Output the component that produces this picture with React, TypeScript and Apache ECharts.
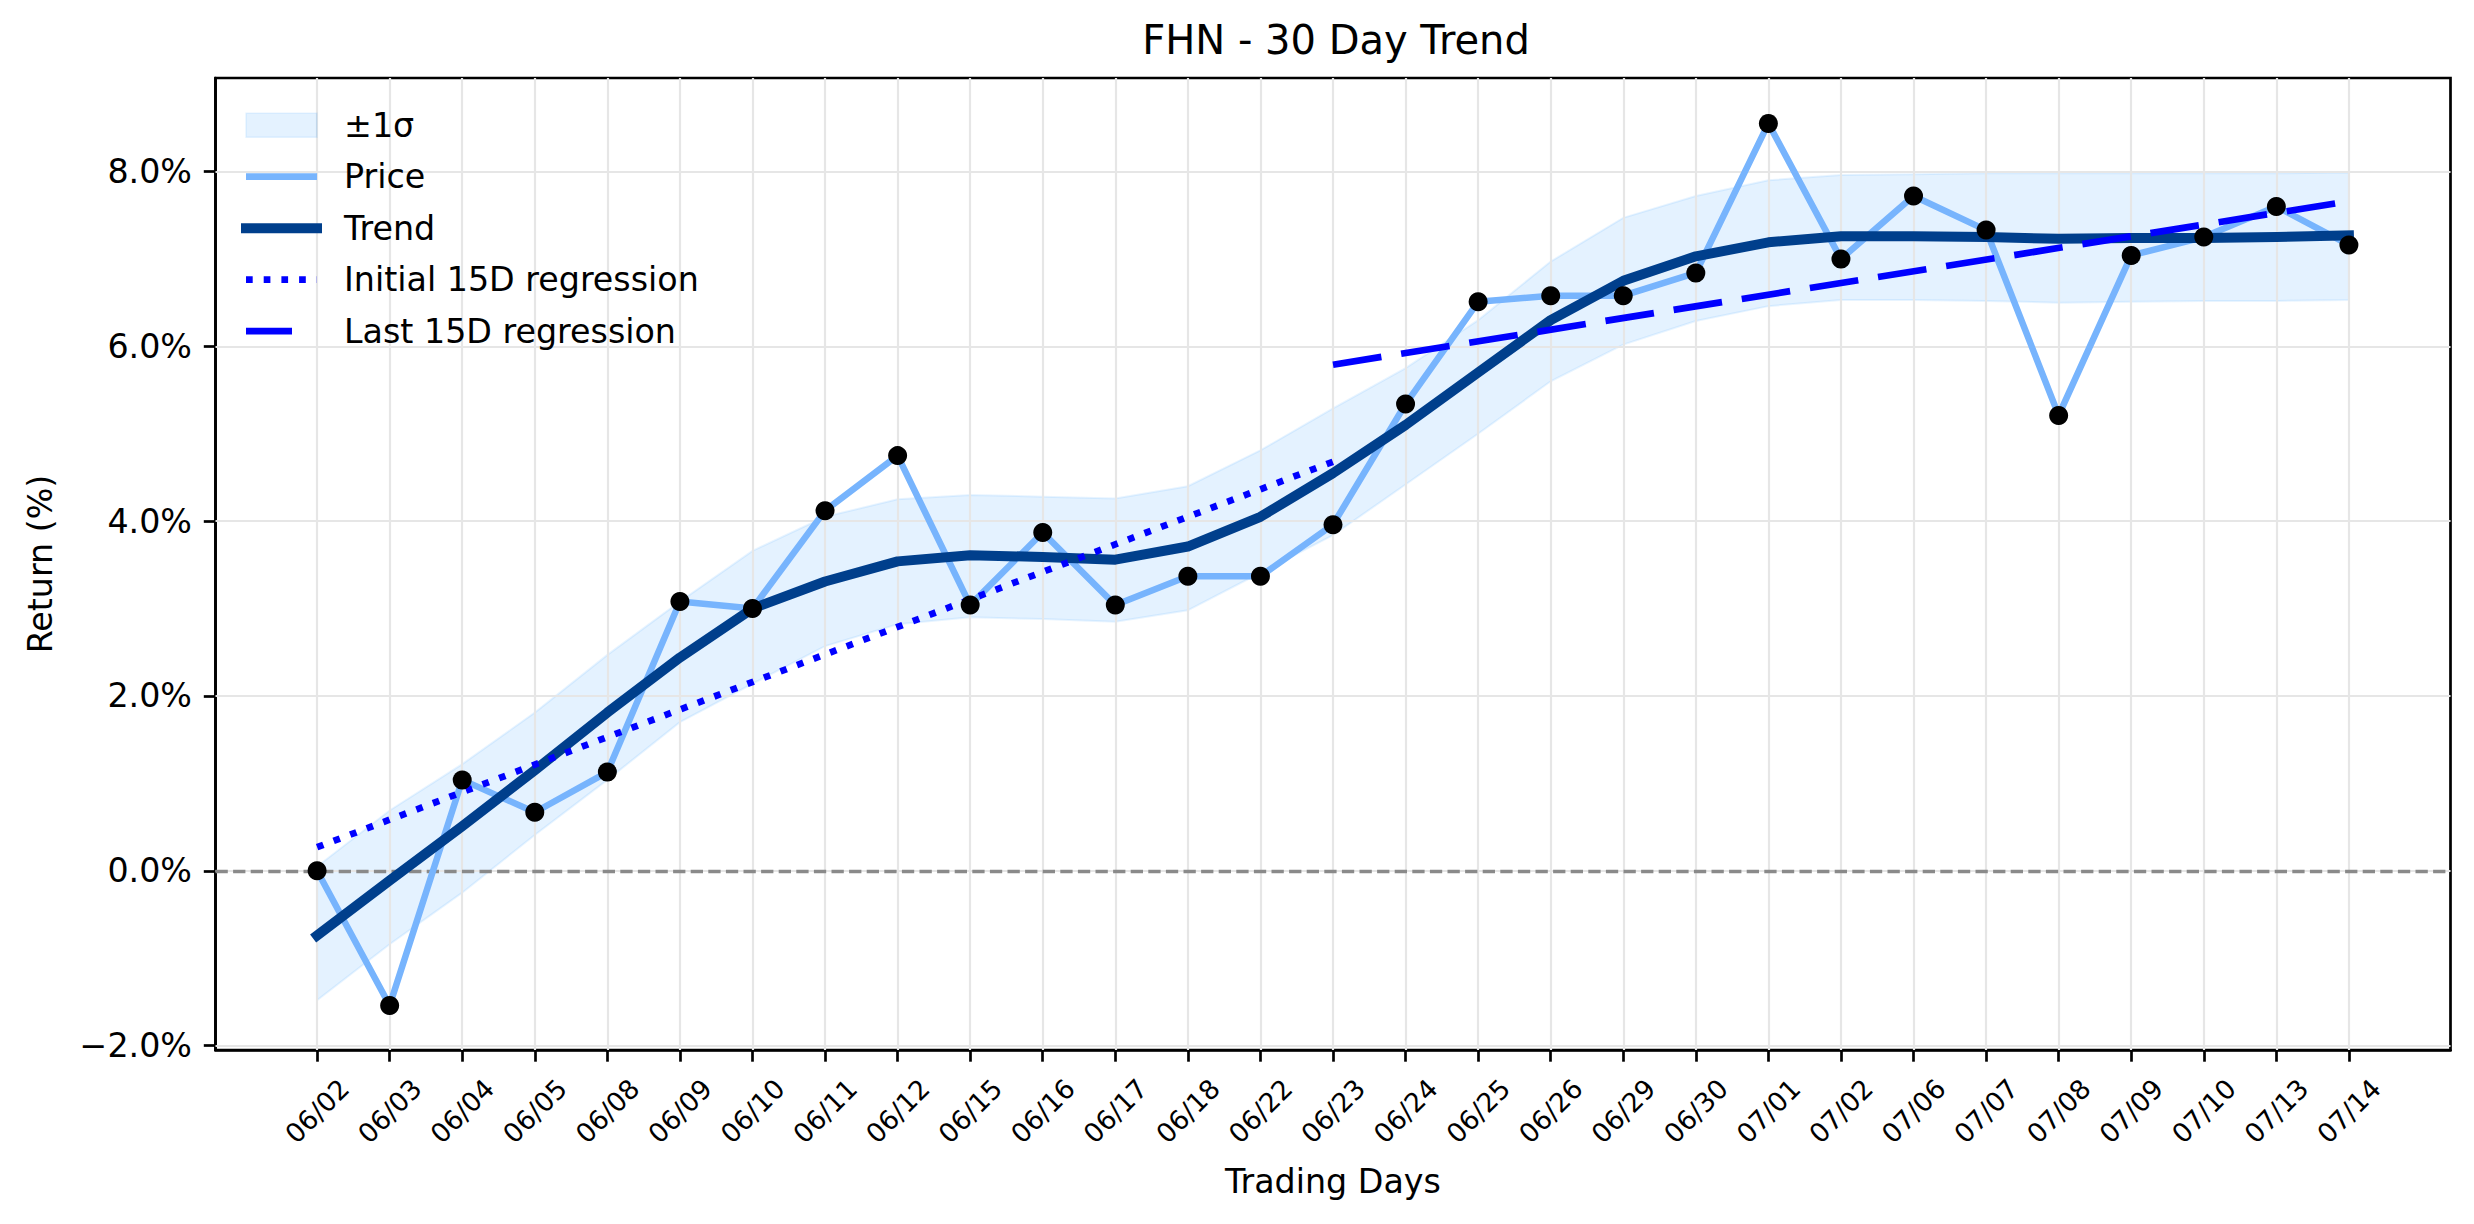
import React, { useEffect, useRef } from 'react';
import * as echarts from 'echarts';

const dates = [
  '06/02', '06/03', '06/04', '06/05', '06/08', '06/09', '06/10', '06/11', '06/12', '06/15',
  '06/16', '06/17', '06/18', '06/22', '06/23', '06/24', '06/25', '06/26', '06/29', '06/30',
  '07/01', '07/02', '07/06', '07/07', '07/08', '07/09', '07/10', '07/13', '07/14',
];
const price = [
  0.0, -1.54, 1.04, 0.67, 1.13, 3.08, 3.0, 4.12, 4.75, 3.04,
  3.87, 3.04, 3.37, 3.37, 3.96, 5.34, 6.51, 6.58, 6.58, 6.84,
  8.55, 7.0, 7.72, 7.33, 5.21, 7.04, 7.25, 7.6, 7.16,
];
const trend = [
  -0.74, -0.11, 0.51, 1.15, 1.81, 2.44, 3.0, 3.31, 3.54, 3.61,
  3.59, 3.56, 3.71, 4.05, 4.55, 5.1, 5.7, 6.3, 6.75, 7.03,
  7.19, 7.26, 7.26, 7.25, 7.23, 7.24, 7.24, 7.25, 7.27,
];
const bandUpper = [
  0.05, 0.69, 1.22, 1.81, 2.47, 3.08, 3.66, 4.05, 4.25, 4.3,
  4.28, 4.26, 4.4, 4.81, 5.29, 5.75, 6.3, 6.97, 7.47, 7.72,
  7.9, 7.96, 7.97, 7.98, 7.98, 7.98, 7.98, 7.98, 7.99,
];
const bandLower = [
  -1.48, -0.84, -0.25, 0.41, 1.04, 1.7, 2.14, 2.57, 2.82, 2.9,
  2.88, 2.85, 2.98, 3.41, 3.84, 4.42, 5.0, 5.6, 6.02, 6.29,
  6.46, 6.53, 6.53, 6.52, 6.5, 6.51, 6.52, 6.52, 6.53,
];
const initialRegIdx = [0, 14];
const initialRegVal = [0.27, 4.68];
const lastRegIdx = [14, 28];
const lastRegVal = [5.79, 7.66];
const yTicks = [-2, 0, 2, 4, 6, 8];

const FONT = 'DejaVu Sans';
const PRICE_COLOR = '#77b4fd';
const TREND_COLOR = '#003f8c';
const REG_COLOR = '#0000ff';
const BAND_FILL = 'rgba(30,144,255,0.12)';
const BAND_EDGE = 'rgba(30,144,255,0.10)';
const DOT_DASH = [6.7, 11];
const LONG_DASH = [49, 20];
const LEGEND_LONG_DASH = [46, 40];

export default function App() {
  const ref = useRef<HTMLDivElement>(null);

  useEffect(() => {
    const chart = echarts.init(ref.current as HTMLDivElement, null, { renderer: 'svg' });
    const xIdx = dates.map((_, i) => i);
    const pricePts = price.map((v, i) => [i, v]);
    const trendPts = trend.map((v, i) => [i, v]);
    const initPts = initialRegIdx.map((x, k) => [x, initialRegVal[k]]);
    const lastPts = lastRegIdx.map((x, k) => [x, lastRegVal[k]]);

    const fmtY = (v: number) => (v < 0 ? '\u2212' : '') + Math.abs(v).toFixed(1) + '%';

    const option: any = {
      animation: false,
      backgroundColor: '#ffffff',
      textStyle: { fontFamily: FONT },
      title: {
        text: 'FHN - 30 Day Trend',
        left: 1331,
        top: 15,
        textAlign: 'center',
        textStyle: { fontSize: 40, fontWeight: 'normal', color: '#000', lineHeight: 40, fontFamily: FONT },
      },
      grid: {
        left: 215.5,
        right: 23.5,
        top: 78,
        bottom: 174,
        show: true,
        borderColor: '#000',
        borderWidth: 2.7,
        backgroundColor: 'transparent',
      },
      legend: {
        orient: 'vertical',
        left: 241,
        top: 108.5,
        padding: 0,
        itemGap: 18.2,
        itemWidth: 71,
        itemHeight: 24,
        selectedMode: false,
        textStyle: { fontSize: 33.3, color: '#000', fontFamily: FONT, lineHeight: 33.3, padding: [0, 0, 0, 22] },
        data: [
          { name: '\u00b11\u03c3', icon: 'rect', itemStyle: { color: BAND_FILL, borderColor: BAND_EDGE, borderWidth: 1.5 } },
          { name: 'Price', itemStyle: { opacity: 0 }, lineStyle: { color: PRICE_COLOR, width: 6.7, type: 'solid' } },
          { name: 'Trend', itemStyle: { opacity: 0 }, lineStyle: { color: TREND_COLOR, width: 10, type: 'solid' } },
          { name: 'Initial 15D regression', itemStyle: { opacity: 0 }, lineStyle: { color: REG_COLOR, width: 6.7, type: DOT_DASH } },
          { name: 'Last 15D regression', itemStyle: { opacity: 0 }, lineStyle: { color: REG_COLOR, width: 6.7, type: LEGEND_LONG_DASH } },
        ],
      },
      xAxis: {
        type: 'value',
        min: -1.4,
        max: 29.4,
        axisLine: { show: true, onZero: false, lineStyle: { color: '#000', width: 2.7 } },
        axisTick: { show: true, customValues: xIdx, length: 11.7, lineStyle: { color: '#000', width: 2.7 } },
        axisLabel: {
          customValues: xIdx,
          formatter: (v: number) => dates[Math.round(v)] ?? '',
          rotate: 45,
          align: 'center',
          verticalAlign: 'middle',
          margin: 61,
          fontSize: 26.7,
          color: '#000',
          fontFamily: FONT,
        },
        splitLine: { show: false },
      },
      yAxis: {
        type: 'value',
        min: -2.05,
        max: 9.07,
        axisLine: { show: true, onZero: false, lineStyle: { color: '#000', width: 2.7 } },
        axisTick: { show: true, customValues: yTicks, length: 11.7, lineStyle: { color: '#000', width: 2.7 } },
        axisLabel: {
          customValues: yTicks,
          formatter: fmtY,
          margin: 23.5,
          fontSize: 33.3,
          color: '#000',
          fontFamily: FONT,
        },
        splitLine: { show: false },
      },
      graphic: [
        {
          type: 'text',
          x: 1333,
          y: 1181,
          style: { text: 'Trading Days', fontSize: 33.3, fontFamily: FONT, fill: '#000', align: 'center', verticalAlign: 'middle' },
        },
        {
          type: 'text',
          x: 40,
          y: 564,
          rotation: Math.PI / 2,
          style: { text: 'Return (%)', fontSize: 33.3, fontFamily: FONT, fill: '#000', align: 'center', verticalAlign: 'middle' },
        },
      ],
      series: [
        {
          type: 'custom',
          name: '\u00b11\u03c3',
          z: 1,
          silent: true,
          itemStyle: { color: BAND_FILL },
          data: [[0, bandUpper[0]]],
          encode: { x: 0, y: 1 },
          renderItem: (_params: any, api: any) => {
            const pts: number[][] = [];
            bandUpper.forEach((v, i) => pts.push(api.coord([i, v])));
            for (let i = bandLower.length - 1; i >= 0; i--) pts.push(api.coord([i, bandLower[i]]));
            return {
              type: 'polygon',
              shape: { points: pts },
              style: { fill: BAND_FILL, stroke: BAND_EDGE, lineWidth: 2 },
            };
          },
        },
        {
          type: 'line',
          name: 'gridHelper',
          z: 1,
          silent: true,
          symbol: 'none',
          data: pricePts,
          lineStyle: { opacity: 0 },
          markLine: {
            z: 1.5,
            silent: true,
            symbol: ['none', 'none'],
            label: { show: false },
            lineStyle: { color: '#e6e6e6', width: 2.2, type: 'solid' },
            data: [...xIdx.map((i) => ({ xAxis: i })), ...yTicks.map((v) => ({ yAxis: v }))],
          },
        },
        {
          type: 'line',
          name: 'zeroHelper',
          z: 1,
          silent: true,
          symbol: 'none',
          data: pricePts,
          lineStyle: { opacity: 0 },
          markLine: {
            z: 1.8,
            silent: true,
            symbol: ['none', 'none'],
            label: { show: false },
            lineStyle: { color: '#8a8a8a', width: 3.3, type: [12.3, 5.3] },
            data: [{ yAxis: 0 }],
          },
        },
        {
          type: 'line',
          name: 'Price',
          z: 2,
          symbol: 'none',
          data: pricePts,
          lineStyle: { color: PRICE_COLOR, width: 6.5 },
          itemStyle: { color: PRICE_COLOR },
        },
        {
          type: 'line',
          name: 'Trend',
          z: 3,
          symbol: 'none',
          data: trendPts,
          lineStyle: { color: TREND_COLOR, width: 10, cap: 'square', join: 'round' },
          itemStyle: { color: TREND_COLOR },
        },
        {
          type: 'line',
          name: 'Initial 15D regression',
          z: 4,
          symbol: 'none',
          data: initPts,
          lineStyle: { color: REG_COLOR, width: 6.7, type: DOT_DASH },
          itemStyle: { color: REG_COLOR },
        },
        {
          type: 'line',
          name: 'Last 15D regression',
          z: 4,
          symbol: 'none',
          data: lastPts,
          lineStyle: { color: REG_COLOR, width: 6.7, type: LONG_DASH },
          itemStyle: { color: REG_COLOR },
        },
        {
          type: 'scatter',
          name: 'points',
          z: 5,
          symbol: 'circle',
          symbolSize: 19,
          data: pricePts,
          itemStyle: { color: '#000', opacity: 1 },
        },
      ],
    };

    chart.setOption(option);
    return () => chart.dispose();
  }, []);

  return (
    <div
      ref={ref}
      style={{ position: 'fixed', left: 0, top: 0, width: 2474, height: 1224 }}
    />
  );
}
